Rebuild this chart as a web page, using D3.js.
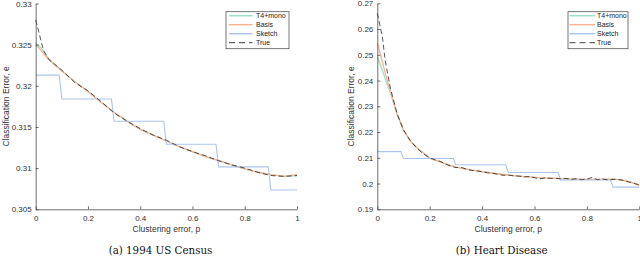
<!DOCTYPE html>
<html>
<head>
<meta charset="utf-8">
<script src="https://cdn.jsdelivr.net/npm/d3@7"></script>
<style>
  body { margin: 0; background: #fff; }
  svg { display: block; font-family: "Liberation Sans", Arial, sans-serif; }
</style>
</head>
<body>
<div id="chartbox"></div>
<script>

// ---- data ----
const seriesNames = ['T4+mono', 'Basis', 'Sketch', 'True']
const colors = ['#9fdfc8', '#f7b594', '#adc4ea', '#2a2a2a']
const xTicks = [0, 0.2, 0.4, 0.6, 0.8, 1]
const xTickLabels = ['0', '0.2', '0.4', '0.6', '0.8', '1']

// (a) 1994 US Census
const yTicksA = [0.305, 0.31, 0.315, 0.32, 0.325, 0.33]
const yTickLabelsA = ['0.305', '0.31', '0.315', '0.32', '0.325', '0.33']
const pA = [0, 0.02, 0.05, 0.1, 0.15, 0.2, 0.25, 0.3, 0.35, 0.4, 0.45, 0.5, 0.55, 0.6, 0.65, 0.7, 0.75, 0.8, 0.85, 0.9, 0.95, 1]
const basisA = [0.3250, 0.3243, 0.3232, 0.3218, 0.3205, 0.3193, 0.3180, 0.3168, 0.3157, 0.3147, 0.3140, 0.3133, 0.3126, 0.3120, 0.3114, 0.3109, 0.3104, 0.3099, 0.3095, 0.3092, 0.3090, 0.3092]
const monoA = [0.3252, 0.3246, 0.3233, 0.3218, 0.3205, 0.3193, 0.3180, 0.3168, 0.3157, 0.3147, 0.3140, 0.3133, 0.3126, 0.3120, 0.3114, 0.3109, 0.3104, 0.3099, 0.3095, 0.3092, 0.3090, 0.3091]
const pTrueA = [0, 0.01, 0.02, 0.03, 0.05, 0.1, 0.15, 0.2, 0.25, 0.3, 0.35, 0.4, 0.45, 0.5, 0.55, 0.6, 0.65, 0.7, 0.75, 0.8, 0.85, 0.9, 0.95, 1]
const trueA = [0.3280, 0.3268, 0.3255, 0.3243, 0.3232, 0.3219, 0.3204, 0.3194, 0.3181, 0.3167, 0.3157, 0.3148, 0.3140, 0.3134, 0.3126, 0.3120, 0.3115, 0.3109, 0.3104, 0.3100, 0.3095, 0.3091, 0.3090, 0.3091]
const pSketchA = [0, 0.09, 0.1, 0.29, 0.3, 0.49, 0.5, 0.69, 0.7, 0.89, 0.9, 1]
const sketchA = [0.3213, 0.3213, 0.3184, 0.3184, 0.3157, 0.3157, 0.3129, 0.3129, 0.31015, 0.31015, 0.30734, 0.30734]

// (b) Heart Disease
const yTicksB = [0.19, 0.2, 0.21, 0.22, 0.23, 0.24, 0.25, 0.26, 0.27]
const yTickLabelsB = ['0.19', '0.2', '0.21', '0.22', '0.23', '0.24', '0.25', '0.26', '0.27']
const pB = [0, 0.01, 0.02, 0.03, 0.04, 0.05, 0.075, 0.1, 0.125, 0.15, 0.2, 0.25, 0.3, 0.35, 0.4, 0.45, 0.5, 0.55, 0.6, 0.65, 0.7, 0.75, 0.8, 0.85, 0.9, 0.93, 0.96, 1]
const basisB = [0.2545, 0.2510, 0.2470, 0.2430, 0.2395, 0.2360, 0.2272, 0.2208, 0.2167, 0.2140, 0.2099, 0.2080, 0.2064, 0.2054, 0.2046, 0.2039, 0.2033, 0.2028, 0.2024, 0.2021, 0.2019, 0.2017, 0.2016, 0.2016, 0.2017, 0.2014, 0.2007, 0.1995]
const monoB = [0.2492, 0.2465, 0.2437, 0.2408, 0.2380, 0.2352, 0.2270, 0.2207, 0.2167, 0.2140, 0.2099, 0.2080, 0.2064, 0.2054, 0.2046, 0.2039, 0.2033, 0.2028, 0.2024, 0.2021, 0.2019, 0.2017, 0.2016, 0.2016, 0.2017, 0.2014, 0.2007, 0.1995]
const pTrueB = [0, 0.01, 0.02, 0.03, 0.05, 0.075, 0.1, 0.125, 0.15, 0.175, 0.2, 0.22, 0.24, 0.26, 0.28, 0.3, 0.32, 0.34, 0.36, 0.38, 0.4, 0.42, 0.44, 0.46, 0.48, 0.5, 0.52, 0.54, 0.56, 0.58, 0.6, 0.62, 0.64, 0.66, 0.68, 0.7, 0.72, 0.74, 0.76, 0.78, 0.8, 0.82, 0.84, 0.86, 0.88, 0.9, 0.92, 0.94, 0.96, 0.98, 1]
const trueB = [0.2661, 0.2615, 0.2565, 0.2478, 0.2370, 0.2273, 0.2208, 0.2168, 0.2138, 0.2116, 0.2100, 0.2092, 0.2086, 0.2076, 0.2068, 0.2062, 0.2063, 0.2056, 0.2051, 0.2049, 0.2046, 0.2042, 0.2040, 0.2036, 0.2032, 0.2033, 0.2030, 0.2029, 0.2026, 0.2027, 0.2023, 0.2018, 0.2022, 0.2020, 0.2021, 0.2018, 0.2020, 0.2016, 0.2019, 0.2015, 0.2017, 0.2024, 0.2015, 0.2018, 0.2014, 0.2016, 0.2016, 0.2012, 0.2006, 0.2001, 0.1993]
const pSketchB = [0, 0.09, 0.1, 0.29, 0.3, 0.49, 0.5, 0.69, 0.7, 0.89, 0.9, 1]
const sketchB = [0.2124, 0.2124, 0.2097, 0.2097, 0.2073, 0.2073, 0.2043, 0.2043, 0.2014, 0.2014, 0.1986, 0.1986]

const svg = d3.select('#chartbox')
  .append('svg')
  .attr('width', 640)
  .attr('height', 259)

const zip = (xs, ys) => xs.map((x, i) => [x, ys[i]])

function drawPanel(opt) {
  const x = d3.scaleLinear().domain([0, 1]).range([opt.left, opt.right])
  const y = d3.scaleLinear().domain(opt.yDomain).range([opt.bottom, opt.top])

  const g = svg.append('g')

  const line = d3.line().x(d => x(d[0])).y(d => y(d[1]))

  const series = [
    { data: zip(opt.pMono, opt.mono), color: colors[0], w: 1.3 },
    { data: zip(opt.pBasis, opt.basis), color: colors[1], w: 1.3 },
    { data: zip(opt.pSketch, opt.sketch), color: colors[2], w: 1.1 },
    { data: zip(opt.pTrue, opt.truth), color: colors[3], w: 0.8, dash: '5,3' }
  ]

  g.selectAll('path.series')
    .data(series)
    .enter()
    .append('path')
    .attr('class', 'series')
    .attr('d', d => line(d.data))
    .attr('fill', 'none')
    .attr('stroke', d => d.color)
    .attr('stroke-width', d => d.w)
    .attr('stroke-dasharray', d => d.dash || null)

  // axes, MATLAB style ticks pointing inward
  g.append('g')
    .attr('transform', 'translate(0,' + opt.bottom + ')')
    .call(d3.axisBottom(x).tickValues(xTicks).tickFormat((d, i) => xTickLabels[i])
      .tickSizeInner(-3).tickSizeOuter(0).tickPadding(6))

  g.append('g')
    .attr('transform', 'translate(' + opt.left + ',0)')
    .call(d3.axisLeft(y).tickValues(opt.yTicks).tickFormat((d, i) => opt.yTickLabels[i])
      .tickSizeInner(-3).tickSizeOuter(0).tickPadding(4))

  g.selectAll('.domain, .tick line').attr('stroke', '#4a4a4a').attr('stroke-width', 0.8)
  g.selectAll('.tick text').attr('fill', '#333').style('font-size', '8px')
    .style('font-family', '"Liberation Sans", Arial, sans-serif')

  const cx = (opt.left + opt.right) / 2
  g.append('text')
    .attr('x', cx)
    .attr('y', 232)
    .attr('text-anchor', 'middle')
    .attr('fill', '#333')
    .style('font-size', '8.5px')
    .text('Clustering error, p')

  g.append('text')
    .attr('transform', 'translate(' + opt.ylabelX + ',' + ((opt.top + opt.bottom) / 2) + ') rotate(-90)')
    .attr('text-anchor', 'middle')
    .attr('fill', '#333')
    .style('font-size', '8.5px')
    .text('Classification Error, e')

  g.append('text')
    .attr('x', opt.captionX)
    .attr('y', 254)
    .attr('text-anchor', 'middle')
    .attr('fill', '#111')
    .style('font-family', '"DejaVu Serif", serif')
    .style('font-size', '10.3px')
    .text(opt.caption)

  // legend
  const lg = g.append('g').attr('transform', 'translate(' + opt.legX + ',' + opt.legY + ')')
  lg.append('rect')
    .attr('width', opt.legW)
    .attr('height', 37)
    .attr('fill', '#fff')
    .attr('stroke', '#555')
    .attr('stroke-width', 0.8)

  const items = lg.selectAll('g.item')
    .data(seriesNames)
    .enter()
    .append('g')
    .attr('class', 'item')
    .attr('transform', (d, i) => 'translate(0,' + (4 + i * 9) + ')')

  items.append('line')
    .attr('x1', opt.legLine0)
    .attr('x2', opt.legLine1)
    .attr('stroke', (d, i) => colors[i])
    .attr('stroke-width', (d, i) => i === 3 ? 0.9 : 1.5)
    .attr('stroke-dasharray', (d, i) => i === 3 ? '6,4' : null)

  items.append('text')
    .attr('x', opt.legText)
    .attr('y', 2.5)
    .attr('fill', '#222')
    .style('font-size', '7px')
    .text(d => d)
}

drawPanel({
  left: 35.7, right: 297, top: 3.5, bottom: 209.3,
  yDomain: [0.305, 0.33], yTicks: yTicksA, yTickLabels: yTickLabelsA,
  pMono: pA, mono: monoA, pBasis: pA, basis: basisA,
  pSketch: pSketchA, sketch: sketchA, pTrue: pTrueA, truth: trueA,
  ylabelX: 9, captionX: 160.5, caption: '(a) 1994 US Census',
  legX: 226, legY: 11.7, legW: 63, legLine0: 3, legLine1: 26.5, legText: 30
})

drawPanel({
  left: 377.3, right: 639.3, top: 3.3, bottom: 209.3,
  yDomain: [0.19, 0.27], yTicks: yTicksB, yTickLabels: yTickLabelsB,
  pMono: pB, mono: monoB, pBasis: pB, basis: basisB,
  pSketch: pSketchB, sketch: sketchB, pTrue: pTrueB, truth: trueB,
  ylabelX: 354, captionX: 501.7, caption: '(b) Heart Disease',
  legX: 568, legY: 11.7, legW: 60, legLine0: 1.5, legLine1: 27, legText: 29
})
</script>
</body>
</html>
